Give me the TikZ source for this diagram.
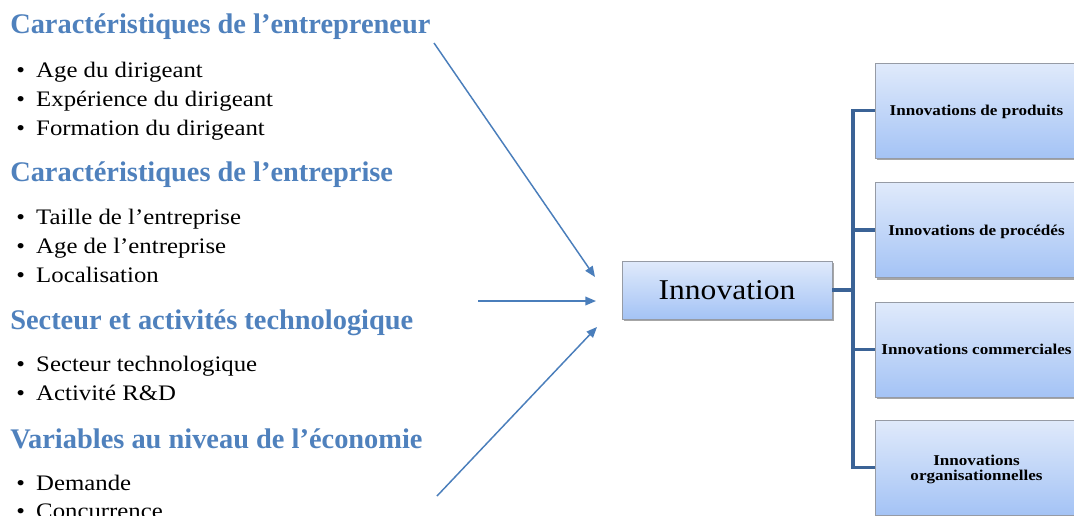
\documentclass[tikz,border=0pt]{standalone}
\usepackage{fontspec}
\setmainfont{Liberation Serif}
\newfontfamily\headfont{Liberation Serif}
\newfontfamily\bodyfont[FakeStretch=1.12]{Liberation Serif}
\newfontfamily\boxfont[FakeStretch=1.14]{Liberation Serif}
\newfontfamily\mainboxfont[FakeStretch=1.1]{Liberation Serif}
\usetikzlibrary{arrows.meta,shadows}

\definecolor{headblue}{RGB}{79,129,189}
\definecolor{arrowblue}{RGB}{74,126,187}
\definecolor{linkblue}{RGB}{59,99,150}
\definecolor{boxtop}{RGB}{224,234,251}
\definecolor{boxbot}{RGB}{164,195,245}
\definecolor{boxedge}{RGB}{150,155,165}

\begin{document}
\begin{tikzpicture}[x=0.75pt,y=-0.75pt,
  head/.style={anchor=base west, inner sep=0pt, text=headblue,
    font=\headfont\bfseries\fontsize{21.3}{25}\selectfont},
  item/.style={anchor=base west, inner sep=0pt,
    font=\bodyfont\fontsize{16.6}{20}\selectfont},
  gradbox/.style={draw=boxedge, line width=0.6pt, top color=boxtop, bottom color=boxbot,
    drop shadow={shadow xshift=1.6pt, shadow yshift=-1.6pt, fill=black, opacity=0.35}},
  mainbox/.style={gradbox, minimum width=157.5pt, minimum height=43.5pt, inner sep=0pt,
    font=\mainboxfont\fontsize{21.5}{24}\selectfont},
  kindbox/.style={gradbox, minimum width=152.25pt, minimum height=71.25pt, inner sep=0pt,
    align=center, text depth=0pt, font=\boxfont\bfseries\fontsize{11.25}{11.5}\selectfont},
  feed/.style={draw=arrowblue, line width=1.1pt, -{Triangle[length=8pt,width=6.5pt]}},
  link/.style={draw=linkblue, line width=2.3pt}]

\useasboundingbox (0,0) rectangle (1074,515);
\clip (0,0) rectangle (1074,515);
\fill[white] (0,0) rectangle (1074,515);

\newcommand{\bul}{\makebox[15pt][l]{•}}

% Determinants, grouped by heading
\node[head] (h1) at (10,33) {Caractéristiques de l’entrepreneur};
\node[item] (i11) at (16,77)  {\bul Age du dirigeant};
\node[item] (i12) at (16,106) {\bul Expérience du dirigeant};
\node[item] (i13) at (16,135) {\bul Formation du dirigeant};

\node[head] (h2) at (10,181) {Caractéristiques de l’entreprise};
\node[item] (i21) at (16,224) {\bul Taille de l’entreprise};
\node[item] (i22) at (16,253) {\bul Age de l’entreprise};
\node[item] (i23) at (16,282) {\bul Localisation};

\node[head] (h3) at (10,329) {Secteur et activités technologique};
\node[item] (i31) at (16,371) {\bul Secteur technologique};
\node[item] (i32) at (16,400) {\bul Activité R\&D};

\node[head] (h4) at (10,448) {Variables au niveau de l’économie};
\node[item] (i41) at (16,490) {\bul Demande};
\node[item] (i42) at (16,518) {\bul Concurrence};

% Central node and its four kinds
\node[mainbox] (inno) at (727,290) {Innovation};

\node[kindbox] (k1) at (976.5,110.5) {Innovations de produits};
\node[kindbox] (k2) at (976.5,230)   {Innovations de procédés};
\node[kindbox] (k3) at (976.5,349.5) {Innovations commerciales};
\node[kindbox] (k4) at (976.5,467.5) {Innovations\\organisationnelles};

% Arrows feeding the central node
\coordinate (s1) at (434,43);
\coordinate (t1) at (595,277);
\coordinate (s2) at (478,301);
\coordinate (t2) at (596,301);
\coordinate (s3) at (437,496);
\coordinate (t3) at (597,327);
\draw[feed] (s1) -- (t1);
\draw[feed] (s2) -- (t2);
\draw[feed] (s3) -- (t3);

% Tree connector to the kinds
\coordinate (bus) at (853,290);
\draw[link] (inno.east) -- (bus);
\draw[link] (k1.west) -| (bus);
\draw[link] (k4.west) -| (bus);
\draw[link] (k2.west) -- (k2.west -| bus);
\draw[link] (k3.west) -- (k3.west -| bus);
\end{tikzpicture}
\end{document}
